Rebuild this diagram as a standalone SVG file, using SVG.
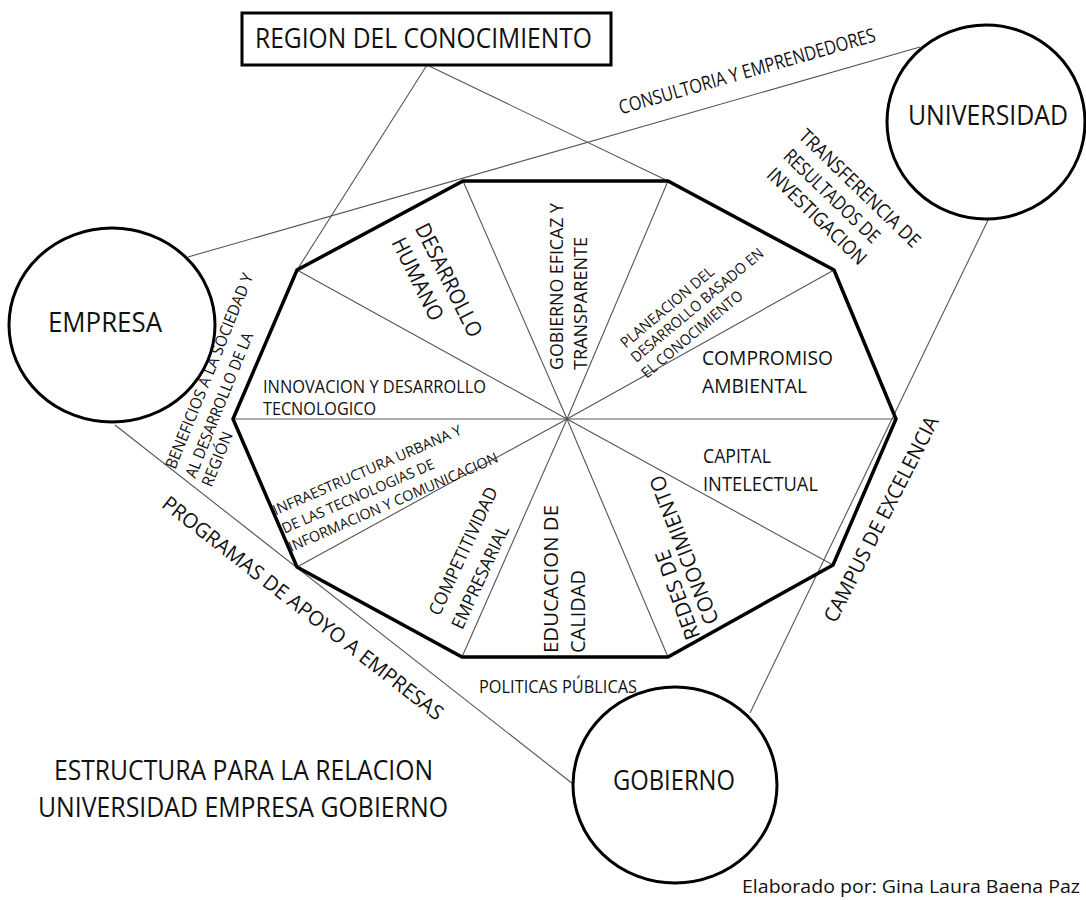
<svg xmlns="http://www.w3.org/2000/svg" width="1086" height="900" viewBox="0 0 1086 900">
<style>
text { font-family: "Open Sans", "Liberation Sans", sans-serif; fill: #111; }
.big { font-size: 27.5px; }
.thin { stroke: #555; stroke-width: 1.1; fill: none; }
.node { fill: #fff; stroke: #000; stroke-width: 3; }
.poly { fill: none; stroke: #000; stroke-width: 3.5; stroke-linejoin: miter; }
</style>
<rect width="1086" height="900" fill="#fff"/>
<g id="connectors" class="thin">
  <line x1="427" y1="65" x2="297" y2="270"/>
  <line x1="427" y1="65" x2="668" y2="181"/>
  <line x1="188" y1="257" x2="920" y2="47"/>
  <line x1="115" y1="425" x2="573" y2="784"/>
  <line x1="989" y1="218" x2="750" y2="713"/>
</g>
<g id="decagon">
  <g class="thin">
    <line x1="567" y1="419" x2="463" y2="181"/>
    <line x1="567" y1="419" x2="668" y2="181"/>
    <line x1="567" y1="419" x2="834" y2="270"/>
    <line x1="567" y1="419" x2="896" y2="419"/>
    <line x1="567" y1="419" x2="833" y2="565"/>
    <line x1="567" y1="419" x2="668" y2="657"/>
    <line x1="567" y1="419" x2="462" y2="657"/>
    <line x1="567" y1="419" x2="297" y2="567"/>
    <line x1="567" y1="419" x2="233" y2="419"/>
    <line x1="567" y1="419" x2="297" y2="270"/>
  </g>
  <polygon class="poly" points="463,181 668,181 834,270 896,419 833,565 668,657 462,657 297,567 233,419 297,270"/>
</g>
<g id="sectors">
  <g id="s-desarrollo-humano" font-size="21.5">
    <text transform="translate(449,280) rotate(63.5)" x="0" y="7.7" text-anchor="middle" textLength="124" lengthAdjust="spacingAndGlyphs">DESARROLLO</text>
    <text transform="translate(418,279) rotate(63.5)" x="0" y="7.7" text-anchor="middle" textLength="90" lengthAdjust="spacingAndGlyphs">HUMANO</text>
  </g>
  <g id="s-gobierno" font-size="18.5">
    <text transform="translate(556,286.5) rotate(-90)" x="0" y="6.6" text-anchor="middle" textLength="167" lengthAdjust="spacingAndGlyphs">GOBIERNO EFICAZ Y</text>
    <text transform="translate(580,303.5) rotate(-90)" x="0" y="6.6" text-anchor="middle" textLength="133" lengthAdjust="spacingAndGlyphs">TRANSPARENTE</text>
  </g>
  <g id="s-planeacion" font-size="15">
    <text transform="translate(667,307) rotate(-40)" x="0" y="5.4" text-anchor="middle" textLength="117" lengthAdjust="spacingAndGlyphs">PLANEACION DEL</text>
    <text transform="translate(697,305) rotate(-40)" x="0" y="5.4" text-anchor="middle" textLength="168" lengthAdjust="spacingAndGlyphs">DESARROLLO BASADO EN</text>
    <text transform="translate(692,334) rotate(-40)" x="0" y="5.4" text-anchor="middle" textLength="127" lengthAdjust="spacingAndGlyphs">EL CONOCIMIENTO</text>
  </g>
  <g id="s-compromiso" font-size="20.5">
    <text x="702" y="365" textLength="131" lengthAdjust="spacingAndGlyphs">COMPROMISO</text>
    <text x="702" y="393" textLength="105" lengthAdjust="spacingAndGlyphs">AMBIENTAL</text>
  </g>
  <g id="s-innovacion" font-size="18">
    <text x="263" y="393" textLength="223" lengthAdjust="spacingAndGlyphs">INNOVACION Y DESARROLLO</text>
    <text x="263" y="415" textLength="113" lengthAdjust="spacingAndGlyphs">TECNOLOGICO</text>
  </g>
  <g id="s-infraestructura" font-size="14.5">
    <text transform="translate(367,470) rotate(-23.5)" x="0" y="5.2" text-anchor="middle" textLength="204" lengthAdjust="spacingAndGlyphs">INFRAESTRUCTURA URBANA Y</text>
    <text transform="translate(358,496) rotate(-23.5)" x="0" y="5.2" text-anchor="middle" textLength="165" lengthAdjust="spacingAndGlyphs">DE LAS TECNOLOGIAS DE</text>
    <text transform="translate(393,502) rotate(-23.5)" x="0" y="5.2" text-anchor="middle" textLength="227" lengthAdjust="spacingAndGlyphs">INFORMACION Y COMUNICACION</text>
  </g>
  <g id="s-competitividad" font-size="18">
    <text transform="translate(463,551) rotate(-65)" x="0" y="6.4" text-anchor="middle" textLength="139" lengthAdjust="spacingAndGlyphs">COMPETITIVIDAD</text>
    <text transform="translate(480,577) rotate(-65)" x="0" y="6.4" text-anchor="middle" textLength="112" lengthAdjust="spacingAndGlyphs">EMPRESARIAL</text>
  </g>
  <g id="s-educacion" font-size="20.5">
    <text transform="translate(551,579) rotate(-90)" x="0" y="7.3" text-anchor="middle" textLength="148" lengthAdjust="spacingAndGlyphs">EDUCACION DE</text>
    <text transform="translate(577.5,611.5) rotate(-90)" x="0" y="7.3" text-anchor="middle" textLength="83" lengthAdjust="spacingAndGlyphs">CALIDAD</text>
  </g>
  <g id="s-redes" font-size="21">
    <text transform="translate(677.5,595) rotate(-110)" x="0" y="7.5" text-anchor="middle" textLength="94" lengthAdjust="spacingAndGlyphs">REDES DE</text>
    <text transform="translate(684,550) rotate(-111)" x="0" y="7.5" text-anchor="middle" textLength="158" lengthAdjust="spacingAndGlyphs">CONOCIMIENTO</text>
  </g>
  <g id="s-capital" font-size="19.5">
    <text x="703" y="463" textLength="68" lengthAdjust="spacingAndGlyphs">CAPITAL</text>
    <text x="703" y="491" textLength="115" lengthAdjust="spacingAndGlyphs">INTELECTUAL</text>
  </g>
</g>
<g id="link-labels">
  <text transform="translate(747,71) rotate(-16)" x="0" y="7" font-size="19.5" text-anchor="middle" textLength="266" lengthAdjust="spacingAndGlyphs">CONSULTORIA Y EMPRENDEDORES</text>
  <g font-size="19.5">
    <text transform="translate(860,188) rotate(44)" x="0" y="7" text-anchor="middle" textLength="160" lengthAdjust="spacingAndGlyphs">TRANSFERENCIA DE</text>
    <text transform="translate(832,196) rotate(44)" x="0" y="7" text-anchor="middle" textLength="125" lengthAdjust="spacingAndGlyphs">RESULTADOS DE</text>
    <text transform="translate(817,216) rotate(44)" x="0" y="7" text-anchor="middle" textLength="130" lengthAdjust="spacingAndGlyphs">INVESTIGACION</text>
  </g>
  <text transform="translate(881,519) rotate(-63)" x="0" y="7.3" font-size="20.5" text-anchor="middle" textLength="228" lengthAdjust="spacingAndGlyphs">CAMPUS DE EXCELENCIA</text>
  <g font-size="16">
    <text transform="translate(209,371) rotate(-68)" x="0" y="5.7" text-anchor="middle" textLength="209" lengthAdjust="spacingAndGlyphs">BENEFICIOS A LA SOCIEDAD Y</text>
    <text transform="translate(219,405) rotate(-68)" x="0" y="5.7" text-anchor="middle" textLength="155" lengthAdjust="spacingAndGlyphs">AL DESARROLLO DE LA</text>
    <text transform="translate(217,459) rotate(-68)" x="0" y="5.7" text-anchor="middle" textLength="58" lengthAdjust="spacingAndGlyphs">REGIÓN</text>
  </g>
  <text transform="translate(303,608) rotate(37.9)" x="0" y="7.3" font-size="20.5" text-anchor="middle" textLength="350" lengthAdjust="spacingAndGlyphs">PROGRAMAS DE APOYO A EMPRESAS</text>
  <text x="479" y="693" font-size="17.5" textLength="158" lengthAdjust="spacingAndGlyphs">POLITICAS PÚBLICAS</text>
</g>
<g id="region">
  <rect x="242" y="13" width="369" height="52" class="node"/>
  <text x="255" y="48" class="big" textLength="337" lengthAdjust="spacingAndGlyphs">REGION DEL CONOCIMIENTO</text>
</g>
<g id="empresa">
  <ellipse cx="112" cy="325" rx="103" ry="97" class="node"/>
  <text x="48" y="332" class="big" textLength="114" lengthAdjust="spacingAndGlyphs">EMPRESA</text>
</g>
<g id="universidad">
  <ellipse cx="986" cy="122" rx="99" ry="97" class="node"/>
  <text x="908" y="125" class="big" textLength="160" lengthAdjust="spacingAndGlyphs">UNIVERSIDAD</text>
</g>
<g id="gobierno">
  <ellipse cx="675" cy="785" rx="102" ry="98" class="node"/>
  <text x="613" y="790" class="big" textLength="122" lengthAdjust="spacingAndGlyphs">GOBIERNO</text>
</g>
<g id="title">
  <text x="54" y="780" class="big" textLength="379" lengthAdjust="spacingAndGlyphs">ESTRUCTURA PARA LA RELACION</text>
  <text x="38" y="817" class="big" textLength="410" lengthAdjust="spacingAndGlyphs">UNIVERSIDAD EMPRESA GOBIERNO</text>
</g>
<text x="742" y="893" font-family="'DejaVu Sans', sans-serif" font-size="18" textLength="338" lengthAdjust="spacingAndGlyphs">Elaborado por: Gina Laura Baena Paz</text>
</svg>
